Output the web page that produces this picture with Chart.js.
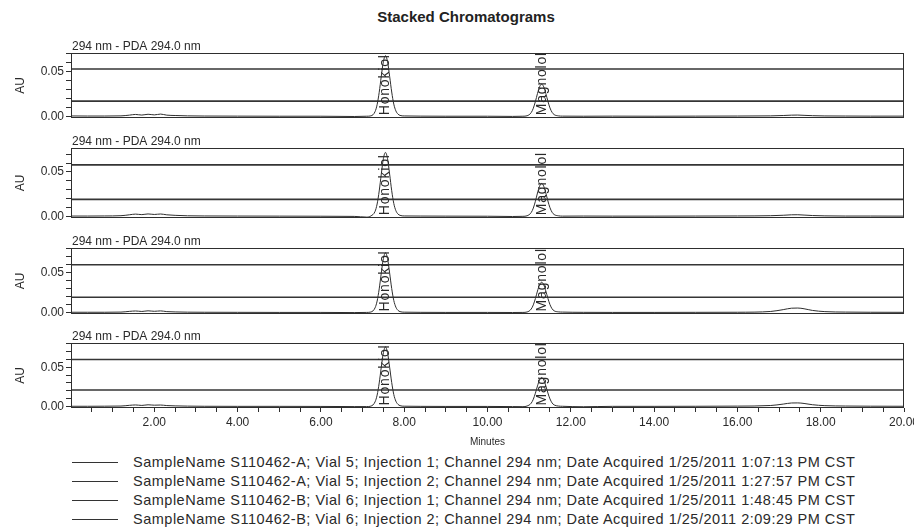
<!DOCTYPE html>
<html>
<head>
<meta charset="utf-8">
<title>Stacked Chromatograms</title>
<script src="https://cdn.jsdelivr.net/npm/chart.js@4.4.0/dist/chart.umd.min.js"></script>
<style>
  html, body { margin: 0; padding: 0; background: #fff; }
  body { width: 914px; height: 529px; overflow: hidden; position: relative;
         font-family: "Liberation Sans", Arial, sans-serif; color: #2a2a2a; }
  #title { position: absolute; left: 216px; width: 500px; top: 8px; text-align: center;
           font-weight: bold; font-size: 15px; color: #222; }
  .panel { position: absolute; left: 0; }
  .legend-row { position: absolute; left: 0; width: 914px; height: 18px; }
  .legend-row .swatch { position: absolute; left: 72px; width: 46px; top: 9px; border-top: 1px solid #333; }
  .legend-row .text { position: absolute; left: 133px; top: 0; font-size: 14.5px; letter-spacing: 0.5px;
                      line-height: 18px; white-space: nowrap; color: #2a2a2a; }
</style>
</head>
<body>
<div id="title">Stacked Chromatograms</div>
<div id="panels"></div>
<div id="legend"></div>
<script>
// Retention time axis (minutes), shared by every trace
const minutes = [
  0.00, 0.40, 0.80, 1.20, 1.40, 1.55, 1.70, 1.85, 2.00, 2.15, 2.30, 2.50, 2.80, 3.20, 4.00, 5.00, 6.00, 6.80,
  7.10, 7.20, 7.30, 7.35, 7.40, 7.45, 7.50, 7.55, 7.60, 7.65, 7.70, 7.75, 7.80, 7.85, 7.90, 8.00,
  8.40, 9.00, 10.00, 10.60,
  10.85, 10.95, 11.05, 11.10, 11.15, 11.20, 11.25, 11.30, 11.35, 11.40, 11.45, 11.50, 11.55, 11.60, 11.70, 11.80,
  12.30, 13.00, 14.00, 15.00, 16.00, 16.80, 17.10, 17.30, 17.45, 17.60, 17.80, 18.10, 18.60, 19.20, 20.00
];

// Absorbance (AU) at 294 nm for each injection
const injA1 = [
  0.0003, 0.0002, 0.0002, 0.0004, 0.0012, 0.0020, 0.0013, 0.0022, 0.0015, 0.0024, 0.0012, 0.0008, 0.0004, 0.0002, 0.0001, 0.0000, 0.0000, -0.0003,
  0.0000, 0.0004, 0.0051, 0.0130, 0.0269, 0.0449, 0.0613, 0.0680, 0.0613, 0.0449, 0.0272, 0.0136, 0.0060, 0.0024, 0.0009, 0.0003,
  0.0001, 0.0000, 0.0000, -0.0002,
  0.0000, 0.0005, 0.0041, 0.0090, 0.0165, 0.0255, 0.0330, 0.0360, 0.0330, 0.0256, 0.0168, 0.0093, 0.0044, 0.0018, 0.0004, 0.0001,
  0.0000, 0.0001, 0.0000, 0.0001, 0.0002, 0.0004, 0.0008, 0.0012, 0.0013, 0.0010, 0.0006, 0.0003, 0.0002, 0.0001, 0.0001
];
const injA2 = [
  0.0002, 0.0002, 0.0003, 0.0006, 0.0016, 0.0024, 0.0018, 0.0026, 0.0020, 0.0025, 0.0016, 0.0010, 0.0005, 0.0003, 0.0002, 0.0001, 0.0000, -0.0002,
  -0.0010, 0.0003, 0.0054, 0.0138, 0.0285, 0.0476, 0.0650, 0.0720, 0.0650, 0.0476, 0.0288, 0.0144, 0.0063, 0.0025, 0.0010, 0.0003,
  0.0002, 0.0001, 0.0000, -0.0003,
  -0.0001, 0.0005, 0.0042, 0.0092, 0.0169, 0.0262, 0.0339, 0.0370, 0.0339, 0.0263, 0.0172, 0.0096, 0.0045, 0.0019, 0.0005, 0.0001,
  0.0002, 0.0001, 0.0001, 0.0002, 0.0003, 0.0006, 0.0011, 0.0016, 0.0017, 0.0013, 0.0008, 0.0004, 0.0002, 0.0002, 0.0001
];
const injB1 = [
  0.0002, 0.0002, 0.0002, 0.0004, 0.0013, 0.0018, 0.0012, 0.0020, 0.0014, 0.0019, 0.0010, 0.0006, 0.0003, 0.0002, 0.0001, 0.0000, 0.0000, -0.0002,
  0.0000, 0.0005, 0.0057, 0.0143, 0.0296, 0.0496, 0.0677, 0.0750, 0.0677, 0.0496, 0.0300, 0.0150, 0.0066, 0.0026, 0.0010, 0.0003,
  0.0001, 0.0000, 0.0000, -0.0001,
  0.0000, 0.0005, 0.0043, 0.0095, 0.0174, 0.0269, 0.0348, 0.0380, 0.0348, 0.0270, 0.0177, 0.0098, 0.0046, 0.0020, 0.0007, 0.0004,
  0.0001, 0.0000, 0.0000, 0.0001, 0.0002, 0.0012, 0.0035, 0.0053, 0.0055, 0.0046, 0.0025, 0.0010, 0.0004, 0.0002, 0.0001
];
const injB2 = [
  0.0002, 0.0002, 0.0003, 0.0005, 0.0014, 0.0019, 0.0013, 0.0021, 0.0016, 0.0018, 0.0011, 0.0007, 0.0004, 0.0002, 0.0001, 0.0001, 0.0000, -0.0002,
  -0.0002, 0.0004, 0.0058, 0.0145, 0.0300, 0.0502, 0.0686, 0.0760, 0.0686, 0.0502, 0.0305, 0.0152, 0.0067, 0.0027, 0.0010, 0.0003,
  0.0001, 0.0000, 0.0000, -0.0002,
  -0.0003, 0.0005, 0.0042, 0.0092, 0.0169, 0.0262, 0.0339, 0.0370, 0.0339, 0.0263, 0.0172, 0.0096, 0.0045, 0.0019, 0.0005, 0.0002,
  -0.0004, 0.0001, 0.0001, 0.0002, 0.0004, 0.0012, 0.0030, 0.0044, 0.0045, 0.0038, 0.0022, 0.0010, 0.0005, 0.0003, 0.0002
];
const traces = [injA1, injA2, injB1, injB2];

// Named peaks and their retention times
const peakNames = ['Honokiol', 'Magnolol'];
const peakTimes = [7.55, 11.30];

// Run metadata for the legend
const sampleNames = ['S110462-A', 'S110462-A', 'S110462-B', 'S110462-B'];
const vials = [5, 5, 6, 6];
const injections = [1, 2, 1, 2];
const channel = '294 nm';
const acquired = ['1/25/2011 1:07:13 PM CST', '1/25/2011 1:27:57 PM CST', '1/25/2011 1:48:45 PM CST', '1/25/2011 2:09:29 PM CST'];
const channelHeader = '294 nm - PDA 294.0 nm';

// Axis ticks
const xLabelTicks = [2, 4, 6, 8, 10, 12, 14, 16, 18, 20];
const yTickValues = [0, 0.01, 0.02, 0.03, 0.04, 0.05, 0.06, 0.07, 0.08];
const yLabelTicks = [0, 0.05];

// Per-panel AU range top and the two horizontal rulings across each plot
const yMaxes = [0.071, 0.077, 0.081, 0.081];
const rulings = [[0.053, 0.017], [0.058, 0.019], [0.060, 0.019], [0.060, 0.021]];

// Panel geometry (plot top and plot height in px)
const plotTops = [53, 148, 248, 343];
const plotHeights = [65, 70, 66, 65];
const HEAD = 24, LEFT_AXIS = 71, RIGHT_PAD = 10, X_AXIS = 40;

Chart.defaults.font.family = '"Liberation Sans", Arial, sans-serif';
Chart.defaults.color = '#2a2a2a';

const ink = '#2e2e2e';

const panelDecor = {
  id: 'panelDecor',
  beforeDatasetsDraw(chart, args, opts) {
    const { ctx, chartArea: a, scales: { y } } = chart;
    ctx.save();
    ctx.strokeStyle = '#353535';
    ctx.lineWidth = 1.6;
    opts.levels.forEach(v => {
      const py = y.getPixelForValue(v);
      ctx.beginPath();
      ctx.moveTo(a.left, py);
      ctx.lineTo(a.right, py);
      ctx.stroke();
    });
    ctx.restore();
  },
  afterDatasetsDraw(chart, args, opts) {
    const { ctx, chartArea: a, scales: { x, y } } = chart;
    ctx.save();
    ctx.strokeStyle = ink;
    ctx.lineWidth = 1;
    ctx.strokeRect(a.left + 0.5, a.top + 0.5, a.width - 1, a.height - 1);
    ctx.fillStyle = '#2a2a2a';
    ctx.font = '12px "Liberation Sans", Arial, sans-serif';
    ctx.textAlign = 'left';
    ctx.textBaseline = 'alphabetic';
    ctx.fillText(opts.header, a.left + 1, a.top - 3);
    ctx.font = '14px "Liberation Sans", Arial, sans-serif';
    if ('letterSpacing' in ctx) ctx.letterSpacing = '0.8px';
    peakNames.forEach((name, i) => {
      const px = x.getPixelForValue(peakTimes[i]);
      const py = y.getPixelForValue(0);
      ctx.save();
      ctx.translate(px, py);
      ctx.rotate(-Math.PI / 2);
      ctx.textAlign = 'left';
      ctx.textBaseline = 'middle';
      ctx.fillText(name, 1, 0);
      ctx.restore();
    });
    ctx.restore();
  }
};

const host = document.getElementById('panels');
traces.forEach((values, i) => {
  const last = i === traces.length - 1;
  const bottom = last ? X_AXIS : 3;
  const canvas = document.createElement('canvas');
  canvas.className = 'panel';
  canvas.width = 914;
  canvas.height = HEAD + plotHeights[i] + bottom;
  canvas.style.top = (plotTops[i] - HEAD) + 'px';
  host.appendChild(canvas);

  new Chart(canvas, {
    type: 'line',
    data: {
      datasets: [{
        label: sampleNames[i] + ' inj ' + injections[i],
        data: minutes.map((t, k) => ({ x: t, y: values[k] })),
        borderColor: ink,
        borderWidth: 1,
        pointRadius: 0,
        cubicInterpolationMode: 'monotone',
        fill: false
      }]
    },
    options: {
      responsive: false,
      animation: false,
      events: [],
      layout: { padding: { top: HEAD, right: RIGHT_PAD, left: 0, bottom: last ? 0 : bottom } },
      plugins: {
        legend: { display: false },
        tooltip: { enabled: false },
        title: { display: false },
        panelDecor: { levels: rulings[i], header: channelHeader }
      },
      scales: {
        x: {
          type: 'linear',
          min: 0,
          max: 20,
          display: last,
          afterBuildTicks(scale) {
            const t = [];
            for (let v = 0.5; v <= 20.001; v += 0.5) t.push({ value: Math.round(v * 10) / 10 });
            scale.ticks = t;
          },
          afterFit(scale) {
            scale.height = last ? X_AXIS : 0;
            scale.paddingLeft = 0;
            scale.paddingRight = 0;
          },
          ticks: {
            autoSkip: false,
            maxRotation: 0,
            padding: 3,
            color: '#2a2a2a',
            font: { size: 12 },
            callback: v => (xLabelTicks.includes(v) ? v.toFixed(2) : '')
          },
          grid: { drawOnChartArea: false, drawTicks: true, tickLength: 4, color: ink },
          border: { display: false },
          title: { display: true, text: 'Minutes', font: { size: 10 }, color: '#2a2a2a', padding: { top: 2, bottom: 0 } }
        },
        y: {
          min: -0.002,
          max: yMaxes[i],
          afterBuildTicks(scale) {
            scale.ticks = yTickValues.filter(v => v <= yMaxes[i] + 1e-9).map(v => ({ value: v }));
          },
          afterFit(scale) {
            scale.width = LEFT_AXIS;
            scale.paddingTop = 0;
            scale.paddingBottom = 0;
          },
          ticks: {
            autoSkip: false,
            padding: 2,
            color: '#2a2a2a',
            font: { size: 12 },
            callback: v => (yLabelTicks.some(t => Math.abs(t - v) < 1e-9) ? v.toFixed(2) : '')
          },
          grid: { drawOnChartArea: false, drawTicks: true, tickLength: 5, color: ink },
          border: { display: false },
          title: { display: true, text: 'AU', font: { size: 12 }, color: '#2a2a2a', padding: { top: 13, bottom: 0 } }
        }
      }
    },
    plugins: [panelDecor]
  });
});

// Legend rows
const legendTops = [462, 481, 500, 519];
const legend = document.getElementById('legend');
sampleNames.forEach((name, i) => {
  const row = document.createElement('div');
  row.className = 'legend-row';
  row.style.top = (legendTops[i] - 9) + 'px';
  const sw = document.createElement('div');
  sw.className = 'swatch';
  const tx = document.createElement('div');
  tx.className = 'text';
  tx.textContent = 'SampleName ' + name + '; Vial ' + vials[i] + '; Injection ' + injections[i] +
    '; Channel ' + channel + '; Date Acquired ' + acquired[i];
  row.appendChild(sw);
  row.appendChild(tx);
  legend.appendChild(row);
});
</script>
</body>
</html>
